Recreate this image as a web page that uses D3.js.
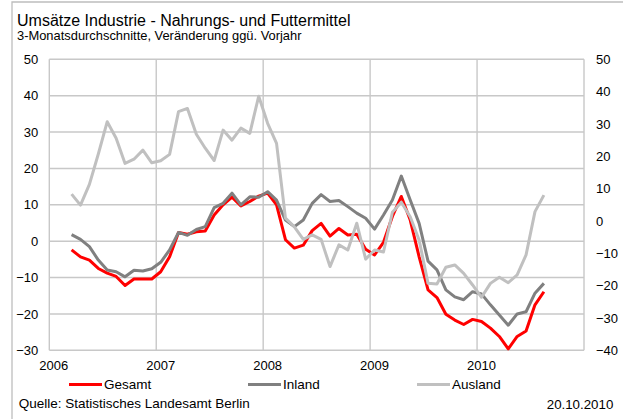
<!DOCTYPE html>
<html>
<head>
<meta charset="utf-8">
<script src="https://cdn.jsdelivr.net/npm/d3@7"></script>
<style>
  html, body { margin: 0; padding: 0; background: #ffffff; }
  svg { display: block; font-family: "Liberation Sans", Arial, sans-serif; }
</style>
</head>
<body>
<svg id="chart" width="623" height="419"></svg>
<script>
// ---------- data ----------
const years = ["2006", "2007", "2008", "2009", "2010"];
const monthNums = ["01","02","03","04","05","06","07","08","09","10","11","12"];
const months = years.flatMap(y => monthNums.map(m => y + "-" + m));
const firstMonthIndex = 2; // series begin March 2006

const seriesNames = ["Gesamt", "Inland", "Ausland"];

const gesamt = [
  -2.4, -4.3, -5.2, -7.5, -8.8, -9.7, -12.2, -10.4, -10.4, -10.4,   // 2006 Mar-Dec
  -8.4, -4.3, 2.4, 1.9, 2.6, 2.8, 7.2, 10.0, 12.1, 9.7, 10.9, 12.4, // 2007
  13.2, 10.0, 0.4, -1.9, -1.1, 2.9, 4.9, 1.4, 3.5, 1.7, 1.9, -2.2,  // 2008
  -3.8, -0.3, 6.8, 12.3, 5.8, -4.3, -13.4, -15.5, -20.1, -21.7, -22.9, -21.5, // 2009
  -22.1, -23.9, -26.2, -29.6, -26.2, -24.7, -17.5, -13.9            // 2010 Jan-Aug
];
const inland = [
  1.8, 0.5, -1.5, -5.2, -7.9, -8.4, -9.8, -8.0, -8.2, -7.6,
  -5.8, -2.4, 2.4, 1.6, 3.2, 4.0, 9.2, 10.4, 13.2, 10.0, 12.2, 12.1,
  13.6, 11.3, 5.8, 4.0, 5.8, 10.4, 12.8, 10.9, 11.2, 9.5, 7.7, 6.3,
  3.3, 7.2, 11.3, 17.9, 11.3, 4.9, -5.5, -7.9, -13.4, -15.3, -16.1, -13.9,
  -14.5, -17.5, -20.3, -23.1, -20.0, -19.4, -14.3, -11.6
];
// Ausland is plotted against the right-hand axis
const ausland = [
  8.3, 4.9, 11.3, 20.7, 30.7, 25.6, 17.8, 19.1, 21.9, 18.0,
  18.6, 20.6, 33.8, 34.8, 26.8, 22.5, 18.7, 28.1, 25.0, 28.7, 27.1, 38.6,
  30.2, 24.0, 0.9, -1.8, -5.7, -4.3, -5.7, -14.1, -7.4, -9.0, -0.7, -11.8,
  -9.0, -9.6, 2.7, 5.8, 1.3, -5.9, -19.3, -19.5, -14.3, -13.6, -16.2, -19.8,
  -23.6, -19.3, -17.4, -19.1, -16.7, -10.5, 2.9, 8.0
];

const leftTicks = [-30, -20, -10, 0, 10, 20, 30, 40, 50];
const rightTicks = [-40, -30, -20, -10, 0, 10, 20, 30, 40, 50];
const yearTickMonths = years.map(y => y + "-01");

const titleText = "Umsätze Industrie - Nahrungs- und Futtermittel";
const subtitleText = "3-Monatsdurchschnitte, Veränderung ggü. Vorjahr";
const sourceText = "Quelle: Statistisches Landesamt Berlin";
const dateText = "20.10.2010";

// ---------- layout ----------
const svg = d3.select("#chart");
const L = 49.3, R = 584, T = 59.3, B = 350.3;
const FONT = "Liberation Sans, Arial, sans-serif";

const x = d3.scaleBand().domain(months).range([L, R]).paddingInner(0).paddingOuter(0);
const yL = d3.scaleLinear().domain([-30, 50]).range([B, T]);
const yR = d3.scaleLinear().domain([-40, 50]).range([B, T]);
const cx = m => x(m) + x.bandwidth() / 2;

// outer frame (partially visible)
svg.append("path")
  .attr("d", `M12,419 L12,2 L623,2`)
  .attr("fill", "none").attr("stroke", "#bdbdbd").attr("stroke-width", 1.3);

// title
svg.append("text").attr("x", 17).attr("y", 25.5).attr("font-size", 16).attr("fill", "#000")
  .text(titleText);
svg.append("text").attr("x", 17).attr("y", 39.5).attr("font-size", 12.9).attr("fill", "#000")
  .text(subtitleText);

// gridlines
const grid = svg.append("g").attr("stroke", "#c8c8c8").attr("stroke-width", 1.4);
grid.selectAll("line.h").data(leftTicks).join("line")
  .attr("x1", L).attr("x2", R).attr("y1", d => yL(d)).attr("y2", d => yL(d));
const vGrid = [L].concat(yearTickMonths.slice(1).map(m => x(m))).concat([R]);
grid.selectAll("line.v").data(vGrid).join("line")
  .attr("x1", d => d).attr("x2", d => d).attr("y1", T).attr("y2", B);

// axes
const axL = svg.append("g").attr("transform", `translate(${L},0)`)
  .call(d3.axisLeft(yL).tickValues(leftTicks).tickSize(0).tickPadding(11).tickFormat(d3.format("d")));
const axR = svg.append("g").attr("transform", `translate(${R},0)`)
  .call(d3.axisRight(yR).tickValues(rightTicks).tickSize(0).tickPadding(12).tickFormat(d3.format("d")));
const axB = svg.append("g").attr("transform", `translate(0,${B})`)
  .call(d3.axisBottom(x).tickValues(yearTickMonths).tickSize(0).tickPadding(10.5).tickFormat(m => m.slice(0, 4)));
[axL, axR, axB].forEach(a => {
  a.select(".domain").remove();
  a.selectAll("text").attr("font-size", 13).attr("font-family", FONT).attr("fill", "#000");
});

// lines
const seriesMonths = months.slice(firstMonthIndex, firstMonthIndex + gesamt.length);
const series = [
  { name: "Gesamt", values: gesamt, scale: yL, color: "#ff0000" },
  { name: "Inland", values: inland, scale: yL, color: "#808080" },
  { name: "Ausland", values: ausland, scale: yR, color: "#c0c0c0" }
];
series.forEach(s => {
  const line = d3.line().x((d, i) => cx(seriesMonths[i])).y(d => s.scale(d));
  svg.append("path").datum(s.values)
    .attr("d", line)
    .attr("fill", "none").attr("stroke", s.color).attr("stroke-width", 3)
    .attr("stroke-linejoin", "round").attr("stroke-linecap", "butt");
});

// legend
const legendX = [69, 248, 417];
const legend = svg.append("g");
series.forEach((s, i) => {
  legend.append("line").attr("x1", legendX[i]).attr("x2", legendX[i] + 33)
    .attr("y1", 384.5).attr("y2", 384.5).attr("stroke", s.color).attr("stroke-width", 3);
  legend.append("text").attr("x", legendX[i] + 35).attr("y", 389.3)
    .attr("font-size", 13.5).attr("fill", "#000").text(seriesNames[i]);
});

// footer
svg.append("text").attr("x", 18.7).attr("y", 408).attr("font-size", 13.5).attr("fill", "#000")
  .text(sourceText);
svg.append("text").attr("x", 613.3).attr("y", 408.5).attr("font-size", 13.3)
  .attr("text-anchor", "end").attr("fill", "#000").text(dateText);
</script>
</body>
</html>
